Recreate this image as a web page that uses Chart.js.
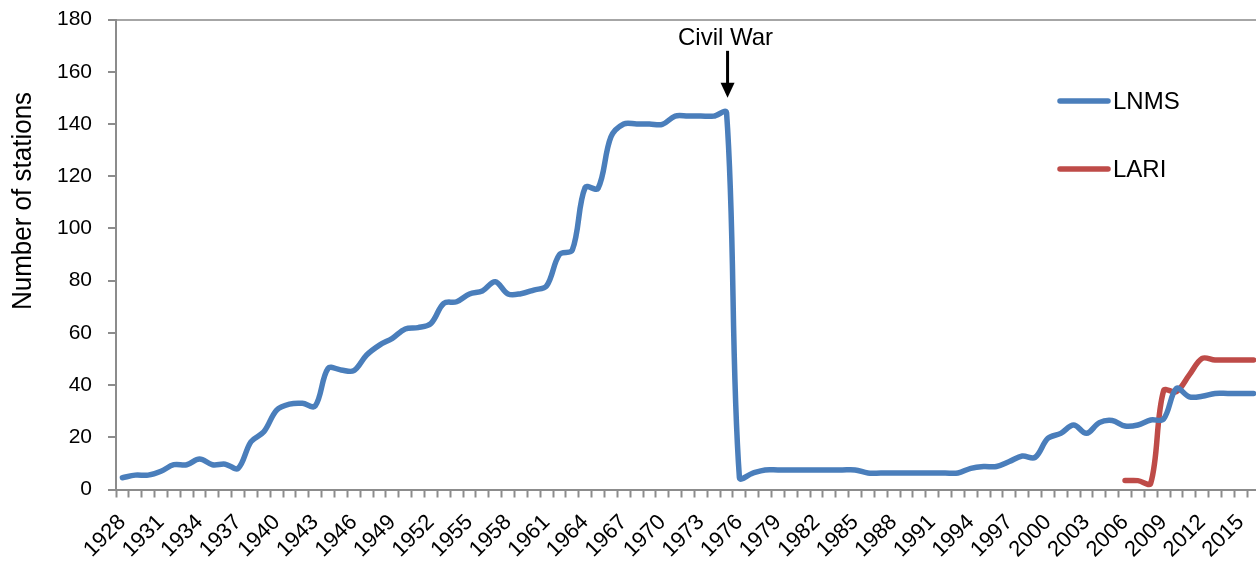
<!DOCTYPE html>
<html>
<head>
<meta charset="utf-8">
<script src="https://cdn.jsdelivr.net/npm/chart.js@4/dist/chart.umd.min.js"></script>
<style>
  html, body { margin: 0; padding: 0; background: #fff; overflow: hidden; }
  #wrap { width: 1262px; height: 562px; }
</style>
</head>
<body>
<div id="wrap"><canvas id="stationsChart" width="1262" height="562"></canvas></div>
<script>
const years = ['1928','1929','1930','1931','1932','1933','1934','1935','1936','1937',
  '1938','1939','1940','1941','1942','1943','1944','1945','1946','1947',
  '1948','1949','1950','1951','1952','1953','1954','1955','1956','1957',
  '1958','1959','1960','1961','1962','1963','1964','1965','1966','1967',
  '1968','1969','1970','1971','1972','1973','1974','1975','1976','1977',
  '1978','1979','1980','1981','1982','1983','1984','1985','1986','1987',
  '1988','1989','1990','1991','1992','1993','1994','1995','1996','1997',
  '1998','1999','2000','2001','2002','2003','2004','2005','2006','2007',
  '2008','2009','2010','2011','2012','2013','2014','2015','2016'];

// LNMS stations, 1928 - 2016
const lnmsValues = [4.5, 5.5, 5.5, 7, 9.5, 9.5, 11.7, 9.5, 9.7, 8.1,
  18.3, 22.1, 30.4, 32.7, 33, 32, 46.4, 45.8, 45.5, 51.5,
  55.3, 57.9, 61.5, 62, 63.6, 71.3, 71.9, 74.9, 76, 79.6,
  74.9, 75, 76.4, 78, 90, 91.7, 115.7, 115.3, 135, 140,
  140, 140, 139.8, 143, 143, 143, 143, 144.3, 4.5, 6.2,
  7.5, 7.5, 7.5, 7.5, 7.5, 7.5, 7.5, 7.5, 6.3, 6.3,
  6.3, 6.3, 6.3, 6.3, 6.3, 6.3, 8.1, 8.8, 8.8, 10.7,
  12.8, 12.3, 19.6, 21.5, 24.7, 21.5, 25.6, 26.4, 24.3, 24.7,
  26.6, 27, 38.7, 35.5, 35.7, 36.8, 36.8, 36.8, 36.8];

// LARI stations, from 2006
const lariStart = '2006';
const lariValues = [3.4, 3.4, 2.4, 37.8, 37.5, 43.9, 50.2, 49.6, 49.6, 49.6, 49.6];

const yTicks = [0, 20, 40, 60, 80, 100, 120, 140, 160, 180];
const yTitle = 'Number of stations';
const civilWarYear = '1975';
const civilWarLabel = 'Civil War';

const blue = '#4a7ebb';
const red = '#be4b48';
const axisGray = '#8c8c8c';
const fontFamily = '"Liberation Sans", Arial, sans-serif';

const lariData = years.map(yr => {
  const i = years.indexOf(yr) - years.indexOf(lariStart);
  return i >= 0 && i < lariValues.length ? lariValues[i] : null;
});

// axis title, Civil War marker and legend drawn on top of the chart
const extrasPlugin = {
  id: 'extras',
  afterDraw(chart) {
    const { ctx, scales: { x, y } } = chart;
    ctx.save();
    ctx.fillStyle = '#000';

    ctx.font = '26px ' + fontFamily;
    ctx.textAlign = 'center';
    ctx.textBaseline = 'middle';
    ctx.save();
    ctx.translate(23, 201);
    ctx.rotate(-Math.PI / 2);
    ctx.scale(1, 1.08);
    ctx.fillText(yTitle, 0, 0);
    ctx.restore();

    const ax = x.getPixelForValue(years.indexOf(civilWarYear)) + 1;
    const top = y.getPixelForValue(168);
    const tip = y.getPixelForValue(150);
    ctx.font = '24px ' + fontFamily;
    ctx.textBaseline = 'alphabetic';
    ctx.fillText(civilWarLabel, ax - 2, y.getPixelForValue(170.2));
    ctx.strokeStyle = '#000';
    ctx.lineWidth = 3;
    ctx.beginPath();
    ctx.moveTo(ax, top);
    ctx.lineTo(ax, tip - 12);
    ctx.stroke();
    ctx.beginPath();
    ctx.moveTo(ax - 7, tip - 15);
    ctx.lineTo(ax + 7, tip - 15);
    ctx.lineTo(ax, tip);
    ctx.closePath();
    ctx.fill();

    const items = chart.data.datasets;
    ctx.font = '24px ' + fontFamily;
    ctx.textAlign = 'left';
    ctx.textBaseline = 'middle';
    ctx.lineCap = 'round';
    ctx.lineWidth = 5.5;
    items.forEach((ds, k) => {
      const ly = 101 + k * 68;
      ctx.strokeStyle = ds.borderColor;
      ctx.beginPath();
      ctx.moveTo(1060, ly);
      ctx.lineTo(1108, ly);
      ctx.stroke();
      ctx.fillStyle = '#000';
      ctx.fillText(ds.label, 1113, ly + 1);
    });
    ctx.restore();
  }
};

new Chart(document.getElementById('stationsChart'), {
  type: 'line',
  data: {
    labels: years,
    datasets: [
      {
        label: 'LNMS',
        data: lnmsValues,
        borderColor: blue,
        borderWidth: 5.5,
        tension: 0.35,
        pointRadius: 0,
        borderCapStyle: 'round',
        borderJoinStyle: 'round'
      },
      {
        label: 'LARI',
        data: lariData,
        borderColor: red,
        borderWidth: 5.5,
        tension: 0.35,
        pointRadius: 0,
        borderCapStyle: 'round',
        borderJoinStyle: 'round'
      }
    ]
  },
  options: {
    responsive: false,
    animation: false,
    layout: { padding: { top: 19.5, right: 2, left: 0, bottom: 0 } },
    plugins: {
      legend: { display: false },
      tooltip: { enabled: false }
    },
    scales: {
      x: {
        offset: true,
        grid: {
          offset: true,
          drawOnChartArea: false,
          tickColor: axisGray,
          tickLength: 8,
          tickWidth: 2
        },
        border: { color: axisGray, width: 2 },
        ticks: {
          autoSkip: false,
          maxRotation: 45,
          minRotation: 45,
          padding: 12,
          color: '#000',
          font: { family: fontFamily, size: 22 },
          callback: function(value, index) {
            return index % 3 === 0 ? this.getLabelForValue(value) : '';
          }
        },
        afterFit(scale) {
          scale.height = 72.5;
          scale.paddingLeft = 0;
          scale.paddingRight = 0;
        }
      },
      y: {
        min: 0,
        max: 180,
        afterBuildTicks(scale) {
          scale.ticks = yTicks.map(v => ({ value: v }));
        },
        grid: {
          color: c => (c.tick && c.tick.value === 180 ? '#a6a6a6' : 'rgba(0,0,0,0)'),
          lineWidth: 2,
          tickColor: axisGray,
          tickLength: 8,
          tickWidth: 2
        },
        border: { color: axisGray, width: 2 },
        ticks: {
          padding: 16,
          color: '#000',
          font: { family: fontFamily, size: 21 }
        },
        afterFit(scale) {
          scale.width = 116;
          scale.paddingTop = 0;
          scale.paddingBottom = 0;
        }
      }
    }
  },
  plugins: [extrasPlugin]
});
</script>
</body>
</html>
